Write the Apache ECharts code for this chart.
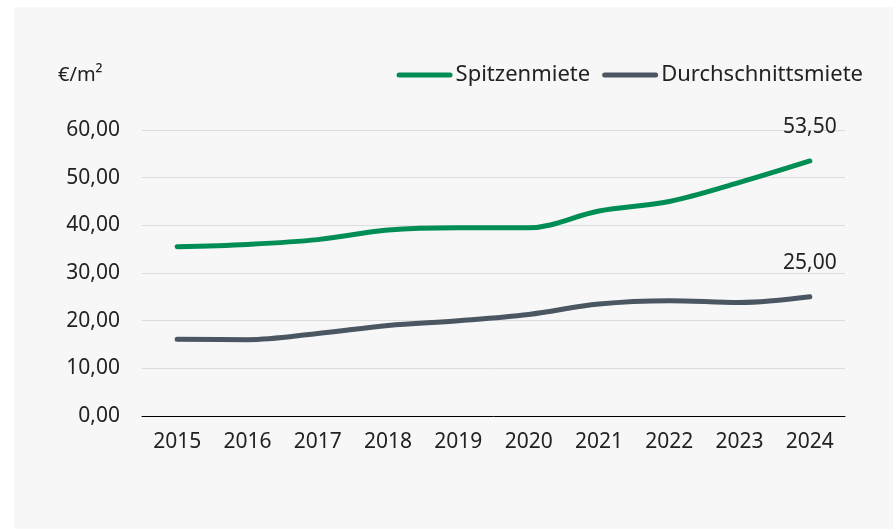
<!DOCTYPE html>
<html>
<head>
<meta charset="utf-8">
<script src="https://cdn.jsdelivr.net/npm/echarts@6/dist/echarts.min.js"></script>
<style>
  html, body { margin: 0; padding: 0; background: #fff; }
  #chart { width: 893px; height: 529px; }
</style>
</head>
<body>
<div id="chart"></div>
<script>
var years = ['2015', '2016', '2017', '2018', '2019', '2020', '2021', '2022', '2023', '2024']
var spitzenmiete = [35.5, 36.0, 37.0, 39.0, 39.5, 39.5, 43.0, 45.0, 49.0, 53.5]
var durchschnittsmiete = [16.1, 16.0, 17.3, 19.0, 20.0, 21.3, 23.5, 24.2, 23.8, 25.0]
var seriesNames = ['Spitzenmiete', 'Durchschnittsmiete']
var unitLabel = '€/m²'

var font = '"Noto Sans", Roboto, sans-serif'
var green = '#008e55'
var grey = '#4a5661'

function fmt(v) {
  return Number(v).toFixed(2).replace('.', ',')
}

// nur den letzten Wert beschriften
function lastLabel(p) {
  return p.dataIndex === years.length - 1 ? fmt(p.value) : ''
}

function lineSeries(name, data, color) {
  return {
    name: name,
    type: 'line',
    data: data,
    smooth: 0.35,
    symbol: 'circle',
    symbolSize: 2,
    showSymbol: true,
    lineStyle: { color: color, width: 5, cap: 'round' },
    itemStyle: { color: color },
    label: {
      show: true,
      position: 'top',
      distance: 22,
      fontFamily: font,
      fontSize: 21,
      color: '#222',
      formatter: lastLabel
    }
  }
}

var chart = echarts.init(document.getElementById('chart'))
chart.setOption({
  backgroundColor: '#fff',
  animation: false,
  graphic: [{
    type: 'rect',
    z: -10,
    shape: { x: 14, y: 7, width: 893, height: 529 },
    style: { fill: '#f7f7f7' }
  }],
  title: {
    text: unitLabel,
    left: 53,
    top: 60,
    textStyle: { fontFamily: font, fontSize: 20, fontWeight: 'normal', color: '#222' }
  },
  legend: {
    right: 25,
    top: 59,
    itemWidth: 56,
    itemHeight: 5,
    itemGap: 12,
    icon: 'path://M2.5,0 L53.5,0 A2.5,2.5 0 0 1 53.5,5 L2.5,5 A2.5,2.5 0 0 1 2.5,0 Z',
    textStyle: { fontFamily: font, fontSize: 22, color: '#222', padding: [0, 0, 0, -2] },
    data: seriesNames
  },
  grid: {
    left: 142,
    right: 48,
    top: 130,
    bottom: 113
  },
  xAxis: {
    type: 'category',
    data: years,
    boundaryGap: true,
    axisTick: { show: false },
    axisLine: { lineStyle: { color: '#000', width: 1 } },
    axisLabel: { fontFamily: font, fontSize: 21, color: '#222', margin: 16 }
  },
  yAxis: {
    type: 'value',
    min: 0,
    max: 60,
    interval: 10,
    axisLine: { show: false },
    axisTick: { show: false },
    splitLine: { lineStyle: { color: '#dcdcdc', width: 1 } },
    axisLabel: { fontFamily: font, fontSize: 21, color: '#222', margin: 22, formatter: fmt }
  },
  series: [
    lineSeries(seriesNames[0], spitzenmiete, green),
    lineSeries(seriesNames[1], durchschnittsmiete, grey)
  ]
})
</script>
</body>
</html>
